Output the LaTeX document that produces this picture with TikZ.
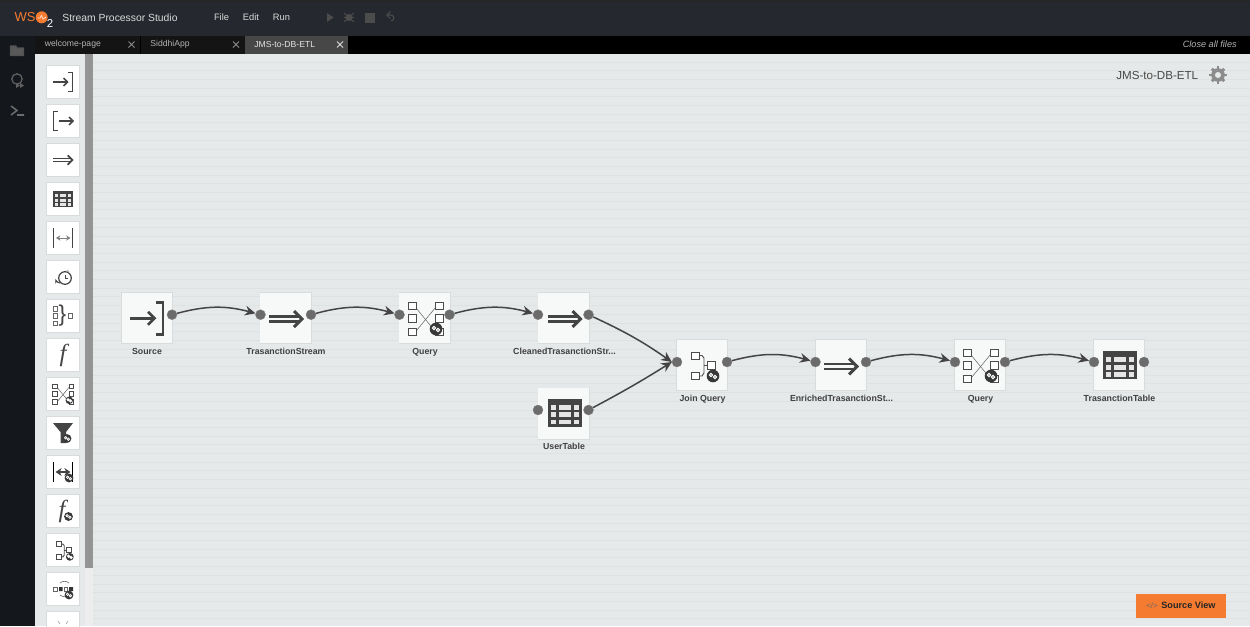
\documentclass[tikz,border=0pt]{standalone}
\usepackage{fontspec}
\setmainfont{Liberation Sans}
\usetikzlibrary{arrows.meta}
\definecolor{topbar}{HTML}{25292F}
\definecolor{sidebar}{HTML}{14181D}
\definecolor{canvasbg}{HTML}{E6E9E9}
\definecolor{stripe}{HTML}{DEE2E2}
\definecolor{boxfill}{HTML}{F7F8F8}
\definecolor{tileline}{HTML}{D9DCDC}
\definecolor{icondark}{HTML}{444444}
\definecolor{portgray}{HTML}{6B6B6B}
\definecolor{wsorange}{HTML}{F47B30}
\tikzset{
	tile/.style={fill=white, outer sep=0pt, minimum size=0.65cm, inner sep=0pt},
	tilerim/.style={fill=tileline, outer sep=0pt, minimum size=0.68cm, inner sep=0pt},
	cmpbox/.style={fill=boxfill, outer sep=0pt, minimum size=1.01cm, inner sep=0pt},
	cmprim/.style={fill=tileline, outer sep=0pt, minimum size=1.04cm, inner sep=0pt},
	port/.style={circle, draw=black!50, fill=portgray, line width=0.2pt, minimum size=0.2cm, inner sep=0pt},
	conn/.style={draw=icondark, line width=0.85pt, -{Stealth[length=6pt,width=5.5pt]}},
	cmplabel/.style={font=\fontsize{5}{6}\selectfont\bfseries, text=black!75, inner sep=0pt, anchor=base},
	barlabel/.style={font=\fontsize{5.3}{6}\selectfont, text=white!85!black, inner sep=0pt},
	tablabel/.style={font=\fontsize{4.9}{6}\selectfont, text=white!70!black, inner sep=0pt},
	sq/.style={draw=#1, fill=white, line width=0.55pt},
	sq/.default=black!70
}
% icons, all around (0,0) in reference pixels
\newcommand{\iconsource}[3]{\begin{scope}[shift={(#1,#2)},scale=#3,draw=icondark]
	\draw[line width=#3*1.7pt] (-17,0) -- (7,0);
	\draw[line width=#3*1.5pt] (1,-6.5) -- (7.5,0) -- (1,6.5);
	\draw[line width=#3*1.5pt] (9,-16) -- (16,-16) -- (16,16) -- (9,16);
\end{scope}}
\newcommand{\iconsink}[3]{\begin{scope}[shift={(#1,#2)},scale=#3,draw=icondark]
	\draw[line width=#3*1.7pt] (-6,0) -- (16,0);
	\draw[line width=#3*1.5pt] (10,-6.5) -- (16.5,0) -- (10,6.5);
	\draw[line width=#3*1.5pt] (-9,-16) -- (-16,-16) -- (-16,16) -- (-9,16);
\end{scope}}
\newcommand{\iconstream}[3]{\begin{scope}[shift={(#1,#2)},scale=#3,draw=icondark]
	\draw[line width=#3*1.3pt] (-17,-2.6) -- (14,-2.6);
	\draw[line width=#3*1.3pt] (-17,2.6) -- (14,2.6);
	\draw[line width=#3*1.7pt] (8,-8) -- (16,0) -- (8,8);
\end{scope}}
\newcommand{\icontable}[3]{\begin{scope}[shift={(#1,#2)},scale=#3]
	\fill[icondark] (-17,-14) rectangle (17,14);
	\foreach \xa/\xb in {-14/-9,-6/6,9/14}
		\foreach \ya/\yb in {-8/-3,-0.5/4.5,7/11.5}
			\fill[white!90!black] (\xa,\ya) rectangle (\xb,\yb);
\end{scope}}
\newcommand{\iconbadge}[3]{\begin{scope}[shift={(#1,#2)},scale=#3]
	\fill[black!78] (0,0) circle (6.3);
	\draw[white, line width=#3*0.6pt] (-2,-1) circle (1.7);
	\draw[white, line width=#3*0.6pt] (2,1) circle (1.7);
\end{scope}}
\newcommand{\iconquery}[3]{\begin{scope}[shift={(#1,#2)},scale=#3]
	\draw[black!60, line width=0.3pt] (-9,-10) -- (9,12);
	\draw[black!60, line width=0.3pt] (-9,12) -- (10,-11);
	\foreach \yy in {-12.5,0,13.5}
		\draw[sq] (-17,\yy-3.7) rectangle (-9.5,\yy+3.7);
	\foreach \yy in {-12.5,0,13.5}
		\draw[sq] (10,\yy-3.7) rectangle (17.5,\yy+3.7);
	\iconbadge{10.5}{10.5}{1}
\end{scope}}
\newcommand{\iconjoin}[3]{\begin{scope}[shift={(#1,#2)},scale=#3]
	\draw[black!70, line width=0.5pt] (-3,-9.5) -- (0,-9.5) -- (2,-7) -- (2,8) -- (0,11) -- (-3,11);
	\draw[black!70, line width=0.5pt] (2,0.5) -- (6,0.5);
	\draw[sq] (-11,-13) rectangle (-3,-5.5);
	\draw[sq] (-11,7) rectangle (-3,14.5);
	\draw[sq] (5.7,-3.3) rectangle (13.7,4);
	\iconbadge{11}{11}{1}
\end{scope}}
\begin{document}
\begin{tikzpicture}[x=0.02cm,y=-0.02cm]
	\clip (0,0) rectangle (1250,626);
	% frame of the window
	\fill[topbar] (0,0) rectangle (1250,36);
	\fill[black!85] (0,0) rectangle (1250,1.5);
	\fill[black] (0,36) rectangle (1250,53.5);
	\fill[sidebar] (0,36) rectangle (34.5,626);
	\fill[canvasbg] (34.5,53.5) rectangle (1250,626);
	\foreach \yy in {62,70.7,...,626}
		\draw[stripe, line width=0.5pt] (92,\yy) -- (1250,\yy);
	\fill[white!93!black] (85,53.5) rectangle (92.5,626);
	\fill[black!42] (85,53.5) rectangle (92.5,568);
	% top bar
	\node[text=wsorange, font=\fontsize{7.4}{9}\selectfont, inner sep=0pt] (logows) at (25,17.5) {WS};
	\node[circle, fill=wsorange, minimum size=0.24cm, inner sep=0pt] (logoo) at (41.7,17.3) {};
	\draw[white!80!wsorange, line width=0.4pt] (37.5,18) -- (40,18) -- (41.5,15.5) -- (43,19) -- (46,17);
	\node[text=white, font=\fontsize{6.5}{8}\selectfont, inner sep=0pt] (logotwo) at (50,24) {2};
	\node[barlabel, font=\fontsize{5.9}{6}\selectfont, anchor=west] (appname) at (62,17.5) {Stream Processor Studio};
	\node[barlabel] (menufile) at (221.5,17.5) {File};
	\node[barlabel] (menuedit) at (251,17.5) {Edit};
	\node[barlabel] (menurun) at (281.5,17.5) {Run};
	\fill[black!70] (327,13) -- (333.5,17.5) -- (327,22) -- cycle;
	\fill[black!70] (349,17.5) circle (3.6);
	\draw[black!70, line width=0.5pt] (344,13) -- (354,22) (354,13) -- (344,22) (344,17.5) -- (354,17.5);
	\fill[black!70] (365,12.5) rectangle (375,22.5);
	\draw[black!70, line width=0.6pt, -{Straight Barb[length=2pt]}] (391,21) to [out=0,in=0,looseness=1.6] (391,15) -- (386,15);
	% tabs
	\fill[black!92] (34.5,36) rectangle (140,53.5);
	\fill[black!92] (141,36) rectangle (244.5,53.5);
	\fill[black!72] (244.5,36) rectangle (347.5,53.5);
	\node[tablabel, anchor=west] (tabwelcome) at (44.5,44.5) {welcome-page};
	\node[tablabel, anchor=west] (tabsiddhi) at (150,44.5) {SiddhiApp};
	\node[tablabel, anchor=west, text=white!90!black] (tabjms) at (254,44.5) {JMS-to-DB-ETL};
	\foreach \xx/\cc in {131.5/55,236/55,340/85}
		\draw[white!\cc!black, line width=0.45pt] (\xx-3,41.5) -- (\xx+3,47.5) (\xx-3,47.5) -- (\xx+3,41.5);
	\node[tablabel, font=\fontsize{5.2}{6}\selectfont\itshape, anchor=east] (closeall) at (1237,44) {Close all files};
	% icons on the far left
	\draw[black!68, line width=0.6pt, fill=black!65] (10.5,46) -- (16,46) -- (17,48) -- (23.5,48) -- (23.5,55.5) -- (10.5,55.5) -- cycle;
	\draw[black!62, line width=0.7pt] (17,79) circle (5.2);
	\fill[black!62] (16,83) -- (20,85.5) -- (16,88) -- cycle (20,83) -- (24,85.5) -- (20,88) -- cycle;
	\draw[black!58, line width=0.9pt] (11,106) -- (17,110.5) -- (11,115) (17,115) -- (24,115);
	% palette
	\foreach \i/\yy in {1/82,2/121,3/160,4/199,5/238,6/277,7/316,8/355,9/394,10/433,11/472,12/511,13/550,14/589,15/628} {
		\node[tilerim] (rim\i) at (63,\yy) {};
		\node[tile] (tile\i) at (63,\yy) {};
	}
	\iconsource{63}{82}{0.6}
	\iconsink{63}{121}{0.6}
	\iconstream{63}{160}{0.58}
	\icontable{63}{199}{0.58}
	\draw[icondark, line width=0.8pt] (53.5,228) -- (53.5,248) (72.5,228) -- (72.5,248);
	\draw[black!50, line width=0.45pt, {Stealth[length=2.5pt,width=3pt]}-{Stealth[length=2.5pt,width=3pt]}] (56,238) -- (70.5,238);
	\draw[icondark, line width=0.7pt] (65,278) circle (6.3);
	\draw[icondark, line width=0.5pt] (65,274.5) -- (65,278) -- (68,278);
	\draw[icondark, line width=0.6pt, -{Stealth[length=2.5pt]}] (60,283) to [bend left=30] (55.5,279);
	\draw[black!30, line width=0.6pt] (67,270) -- (69,272);
	\foreach \yy in {309,316,323.7}
		\draw[sq=black!60] (53.5,\yy-2.2) rectangle (57.8,\yy+2.2);
	\draw[sq=black!60] (68.3,313.8) rectangle (72.6,318.2);
	\node[text=icondark, inner sep=0pt] (bracepal) at (62.5,316) {\fontsize{13}{14}\selectfont\}};
	\node[text=icondark, inner sep=0pt, font=\fontsize{14}{14}\selectfont\itshape] (funcpal) at (63,355) {\fontspec{Liberation Serif}f};
	\iconquery{63}{394}{0.6}
	\fill[icondark] (53,423) -- (73,423) -- (66,432) -- (66,443) -- (60.5,443) -- (60.5,432) -- cycle;
	\iconbadge{67}{438.5}{0.7}
	\draw[black, line width=0.8pt] (53.5,462) -- (53.5,482) (72.5,462) -- (72.5,482);
	\draw[icondark, line width=0.6pt, {Stealth[length=3.5pt,width=4.5pt]}-{Stealth[length=3.5pt,width=4.5pt]}] (55.5,472) -- (70.5,472);
	\iconbadge{69}{478}{0.7}
	\node[text=icondark, inner sep=0pt, font=\fontsize{14}{14}\selectfont\itshape] (funcquerypal) at (62,511) {\fontspec{Liberation Serif}f};
	\iconbadge{68.5}{516.5}{0.7}
	\iconjoin{63}{550}{0.62}
	\draw[black!60, line width=0.35pt] (60,583) to [bend left=40] (69,583) (60,595) to [bend right=40] (69,595);
	\draw[sq=black!60] (53,587) rectangle (57,591);
	\fill[black!80] (59,587) rectangle (62.5,591) (69,587) rectangle (73,591);
	\draw[sq=black!60] (64,587) rectangle (67.5,591);
	\iconbadge{69}{595}{0.7}
	\draw[black!35, line width=0.4pt] (58,621) -- (60,624) (68,621) -- (66,624);
	% components
	\foreach \nm/\xx/\yy in {src/146.8/318,trastream/285.7/318,queryone/424.5/318,cleaned/563.5/318,usertable/563.5/413.5,join/702.2/365,enriched/841.2/365,querytwo/979.8/365,tratable/1118.8/365} {
		\node[cmprim] (\nm rim) at (\xx,\yy) {};
		\node[cmpbox] (\nm box) at (\xx,\yy) {};
	}
	\iconsource{147}{318.3}{1}
	\iconstream{286}{319}{1}
	\iconquery{425.5}{318.5}{1}
	\iconstream{564.5}{319}{1}
	\icontable{564.5}{412.5}{1}
	\iconjoin{702}{365}{1}
	\iconstream{841}{366.5}{1}
	\iconquery{980.5}{365.5}{1}
	\icontable{1120}{365}{1}
	\node[cmplabel] (srclabel) at (147,354) {Source};
	\node[cmplabel] (trastreamlabel) at (286,354) {TrasanctionStream};
	\node[cmplabel] (queryonelabel) at (425,354) {Query};
	\node[cmplabel] (cleanedlabel) at (564.5,354) {CleanedTrasanctionStr...};
	\node[cmplabel] (usertablelabel) at (564,449) {UserTable};
	\node[cmplabel] (joinlabel) at (702.5,401) {Join Query};
	\node[cmplabel] (enrichedlabel) at (841.5,401) {EnrichedTrasanctionSt...};
	\node[cmplabel] (querytwolabel) at (980.5,401) {Query};
	\node[cmplabel] (tratablelabel) at (1119.5,401) {TrasanctionTable};
	% ports
	\node[port] (srcout) at (172,314.7) {};
	\node[port] (trastreamin) at (260.5,314.7) {};
	\node[port] (trastreamout) at (311,314.7) {};
	\node[port] (queryonein) at (399.5,314.7) {};
	\node[port] (queryoneout) at (449.5,314.7) {};
	\node[port] (cleanedin) at (538,314.7) {};
	\node[port] (cleanedout) at (588.5,314.7) {};
	\node[port] (usertablein) at (538,410) {};
	\node[port] (usertableout) at (588.5,410) {};
	\node[port] (joinin) at (677,362) {};
	\node[port] (joinout) at (727,362) {};
	\node[port] (enrichedin) at (815.5,362) {};
	\node[port] (enrichedout) at (866,362) {};
	\node[port] (querytwoin) at (955,362) {};
	\node[port] (querytwoout) at (1005,362) {};
	\node[port] (tratablein) at (1094,362) {};
	\node[port] (tratableout) at (1144,362) {};
	% connectors
	\draw[conn] (srcout) to [out=15,in=165] (trastreamin);
	\draw[conn] (trastreamout) to [out=15,in=165] (queryonein);
	\draw[conn] (queryoneout) to [out=15,in=165] (cleanedin);
	\draw[conn] (cleanedout) to [out=-25,in=145] (joinin.west);
	\draw[conn] (usertableout) to [out=28,in=-148] (joinin.west);
	\draw[conn] (joinout) to [out=15,in=165] (enrichedin);
	\draw[conn] (enrichedout) to [out=15,in=165] (querytwoin);
	\draw[conn] (querytwoout) to [out=15,in=165] (tratablein);
	% title and gear
	\node[inner sep=0pt, text=black!72, font=\fontsize{6.6}{8}\selectfont, anchor=east] (apptitle) at (1198.5,76) {JMS-to-DB-ETL};
	\foreach \a in {0,45,...,315}
		\draw[black!45, line width=1.6pt] (1218,75) -- ++(\a:8.7);
	\fill[black!45] (1218,75) circle (6.8);
	\fill[canvasbg] (1218,75) circle (3);
	% source view button
	\node[fill=wsorange, minimum width=1.79cm, minimum height=0.48cm, inner sep=0pt] (srcviewbtn) at (1181,606) {};
	\node[inner sep=0pt, text=black!58, font=\fontsize{4.4}{6}\selectfont] (srcviewmark) at (1152,605.5) {</>};
	\node[inner sep=0pt, text=black!85, font=\fontsize{5.2}{6}\selectfont\bfseries, anchor=west] (srcviewlabel) at (1161,605.5) {Source View};
\end{tikzpicture}
\end{document}
